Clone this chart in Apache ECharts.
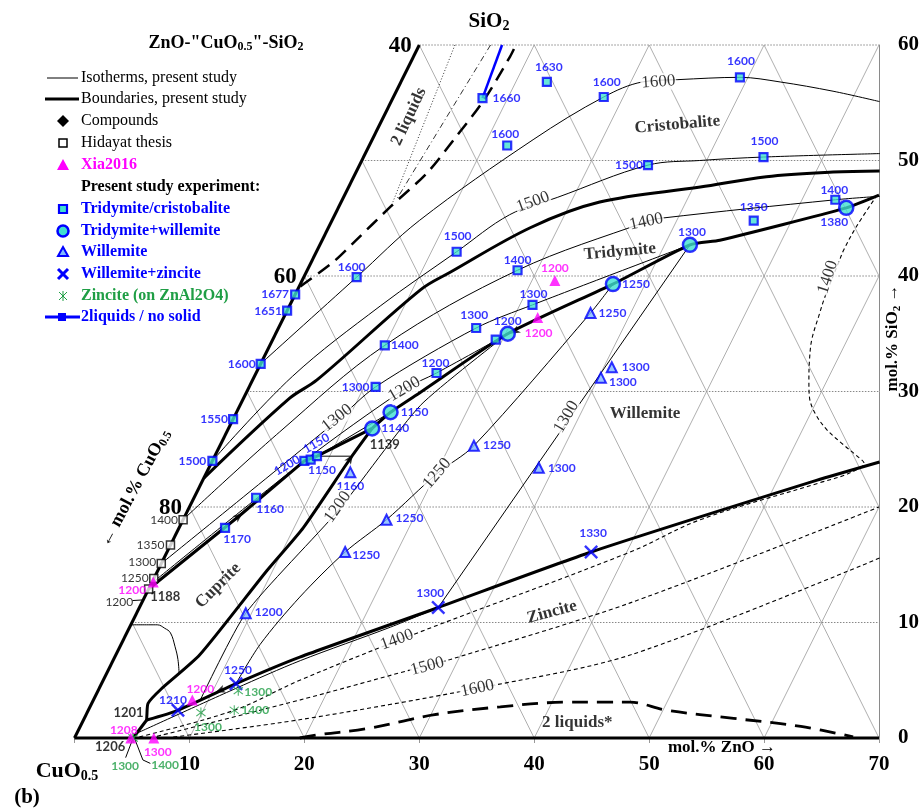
<!DOCTYPE html>
<html><head><meta charset="utf-8">
<script src="https://cdn.jsdelivr.net/npm/echarts@6/dist/echarts.min.js"></script>
<style>html,body{margin:0;padding:0;background:#fff}#c{width:922px;height:810px}</style>
</head><body><div id="c"></div>
<script>
// ===== DATA: compositions as [mol% ZnO, mol% SiO2, T(°C)] =====
const tridCrist = [
 [7.8,55.4,1660],[12.7,56.8,1630],[18.3,55.5,1600],[29.3,57.2,1600],[12.0,51.3,1600],
 [34.8,50.3,1500],[25.1,49.6,1500],[42.9,46.6,1400],[36.7,44.8,1350],[4.6,39.9,1600],
 [0,38.4,1677],[0,37.0,1651],[0,32.4,1600],[0,27.6,1550],[0,24.0,1500],
 [12.2,42.1,1500],[18.3,40.5,1400],[10.0,34.0,1400],[17.2,35.5,1300],[21.1,37.5,1300],
 [15.7,31.6,1200],[11.0,30.4,1300],[19.4,34.5,null],[5.4,20.8,1160],[4.0,18.2,1170],
 [8.0,24.0,null],[8.5,24.1,null],[8.9,24.4,1150]
];
const tridWill = [[44.2,45.9,1380],[32.2,42.7,1300],[27.2,39.3,1250],[20.2,35.0,1200],[13.4,28.2,1150],[12.5,26.8,1140]];
const willemite = [[26.5,36.8,1250],[30.7,32.1,1300],[30.2,31.2,1300],[22.1,25.3,1250],[28.7,23.4,1300],[12.5,23.0,1160],[17.7,18.9,1250],[15.5,16.1,1250],[9.5,10.8,1200]];
const willZinc = [[36.9,16.1,1330],[26.0,11.3,1300],[11.7,4.7,1250],[7.8,2.4,1210]];
const zincite = [[12.2,4.1,1300],[12.7,2.4,1400],[9.9,2.2,1300],[5.1,0,1300],[5.1,0,1400]];
const xia = [[22.0,39.6,1200],[22.1,36.4,1200],[8.6,3.3,1200],[6.9,0,1300],[4.9,0,1208],[0.1,13.5,1200]];
const hidayat = [[0,18.9,1400],[0,16.7,1350],[0,15.1,1300],[0,13.8,1250],[0,12.9,null]];

// boundaries (thick)
const bndCristTrid = [[0,22.5],[4.0,29.4],[5.6,31.0],[10.7,38.8],[12.5,40.3],[17.6,44.2],[22.5,46.4],[30.6,47.7],[35.9,48.6],[41.5,49.0],[45.5,49.1]];
const bndTridWill = [[46.5,47.0],[44.2,45.9],[34.6,43.1],[32.2,42.7],[27.2,39.3],[20.2,35.0],[15.1,29.9],[13.4,28.2],[12.5,26.8]];
const bndCupTrid = [[0,12.9],[4.7,19.2],[8.0,24.0],[8.9,24.4],[12.5,26.8]];
const bndCupWill = [[12.5,26.8],[11.9,24.2],[10.8,18.2],[9.5,14.5],[7.3,7.2],[5.4,4.2],[4.9,3.0],[5.3,2.0],[5.5,1.56]];
const bndCupZinc = [[5.5,1.56],[5.1,0]];
const bndWillZinc = [[5.5,1.56],[7.8,2.4],[11.7,4.7],[16.1,7.0],[26.0,11.3],[36.9,16.1],[53.4,22.3],[58.1,23.9]];
// isotherms (thin)
const iso1600 = [[0,32.4],[4.6,39.9],[7.6,44.8],[14.0,51.8],[18.3,55.5],[21.0,56.8],[24.0,57.0],[29.3,57.2],[33.0,56.8],[38.0,56.0],[42.5,55.1]];
const iso1500 = [[0,24.0],[3.3,31.3],[7.9,37.4],[12.2,42.1],[15.2,45.3],[18.6,46.8],[25.1,49.6],[29.4,50.0],[34.8,50.3],[44.8,50.6]];
const iso1400 = [[0,18.9],[4.6,26.5],[10.0,34.0],[18.3,40.5],[27.4,44.7],[28.5,45.0],[42.9,46.6],[46.6,46.9]];
const iso1300 = [[0,15.1],[9.1,27.5],[11.0,30.4],[17.2,35.5],[21.1,37.5],[32.2,42.7]];
const iso1200 = [[0.1,13.5],[8.0,24.0],[13.6,30.2],[15.7,31.6],[20.2,35.0]];
const iso1150 = [[8.9,24.4],[13.4,28.2]];
const tieLine = [[8.9,24.4],[11.8,24.4]];
const will1300 = [[32.2,42.7],[26.0,11.3]];
const will1250 = [[27.2,39.3],[26.5,36.8],[22.1,25.3],[20.1,22.9],[17.7,18.9],[15.5,16.1],[13.5,12.2],[12.1,8.1],[11.7,4.7]];
const will1200 = [[20.2,35.0],[15.7,28.8],[13.1,19.7],[9.5,10.8],[9.3,3.3]];
const cupIso = [[0,9.8],[2.3,9.8],[3.1,9.5],[3.8,9.1],[4.8,7.9],[5.6,6.8],[6.3,5.6]];
const zn1300 = [[5.2,0.4],[11.9,4.3],[16.3,6.7],[22.7,9.6],[26.0,11.3]];
const zn1400 = [[5.6,0.1],[12.7,2.4],[17.1,5.0],[25.3,9.1],[40.3,16.1],[45.0,18.9],[53.8,22.1],[55.9,22.9],[56.8,23.8],[55.9,24.4],[54.2,25.4],[52.1,26.7],[50.4,28.1],[49.2,29.5],[48.4,31.0],[47.6,32.7],[46.9,34.5],[46.5,36.5],[46.2,38.2],[45.9,41.2],[45.8,42.3],[45.9,44.3],[46.3,46.8]];
const zn1500 = [[6.6,0],[18.0,3.3],[26.3,5.9],[29.3,6.8],[42.5,11.7],[60.0,20.0]];
const zn1600 = [[8.0,0],[18.9,1.6],[32.9,4.3],[44.8,7.2],[62.3,15.6]];
const twoLiqBottom = [[19.6,0],[21.2,0.3],[25.0,0.8],[30.2,2.0],[35.7,2.7],[41.3,3.1],[44.2,3.1],[46.8,3.1],[50.3,2.4],[56.5,1.7],[62.7,1.0],[67.7,0.1]];
const twoLiqTop = [[0.1,39.1],[1.9,41.2],[2.9,43.0],[4.5,46.0],[6.2,48.9],[7.1,51.8],[8.0,55.2],[8.4,59.0],[8.4,60]];
const tieDotted = [[3.1,60],[4.5,46.4]];
const tieDashDot = [[6.2,60],[4.7,46.6]];
const noSolid = [[7.8,55.4],[7.2,60]];
const leader1200 = [[-0.9,11.9],[-0.1,11.95]];
const leaderA = [[5.1,0],[5.3,-1.7]];
const leaderB = [[5.3,-0.1],[6.9,-1.9],[7.7,-2.2]];
const arrows = [[4.7,19.2],[11.9,24.2],[20.7,35.2],[10.6,4.1]];

// text annotations (anchor compositions + text)
const isoLabels = [[22.4,56.8,'1600'],[16.7,46.4,'1500'],[27.4,44.7,'1400'],[9.0,27.7,'1300'],[13.6,30.2,'1200'],
 [12.9,20.0,'1200'],[20.1,22.9,'1250'],[28.9,27.8,'1300'],[45.6,39.9,'1400'],[23.8,8.5,'1400'],[27.6,6.2,'1500'],[32.9,4.3,'1600']];
const phaseLabels = [[25.9,53.1,'Cristobalite'],[26.4,42.1,'Tridymite'],[35.6,28.1,'Willemite'],[36.1,10.9,'Zincite'],[5.9,13.2,'Cuprite'],[43.1,1.3,'2 liquids*'],[2.2,53.8,'2 liquids']];
const invLabels = [[14.3,25.4,'1139'],[1.8,12.2,'1188'],[3.6,2.2,'1201'],[3.5,-0.8,'1206']];
const blueExtraLabels = [[6.7,23.6,'1200'],[8.3,25.5,'1150']];
const blackExtraLabels = [[-2.0,11.8,'1200']];
const xTicks = [0,10,20,30,40,50,60,70];
const yTicks = [0,10,20,30,40,50,60];
const edgeTicks = [[20,'80'],[40,'60'],[60,'40']];

// ===== LAYOUT (label offsets / rotations, px) =====
const tridCristOff = [[24,0],[2,-15],[3,-15],[1,-16],[-2,-11],[1,-16],[-19,0],[-1,-10],[0,-13],[-5,-10],
 [-20,0],[-19,0],[-19,0],[-19,0],[-20,0],[1,-16],[0,-10],[20,0],[-2,-13],[1,-11],
 [-1,-10],[-20,0],null,[14,11],[12,11],null,null,[5,14]];
const tridWillOff = [[-12,14],[2,-13],[23,0],[0,-13],[24,0],[23,0]];
const willOff = [[22,0],[24,0],[22,4],[23,-1],[23,0],[0,14],[23,-2],[21,3],[23,-1]];
const willZincOff = [[2,-19],[-8,-14],[2,-14],[-5,-10]];
const zinciteOff = [[20,1],[21,0],[7,15],[-8,28],[32,27]];
const xiaOff = [[0,-12],[1,16],[8,-11],[4,14],[-7,-8],[-21,8]];
const hidOff = [[-19,0],[-20,0],[-19,-1],[-19,0],null];
const isoRot = [4,20,12,38,30,55,50,60,72,20,15,12];
const phaseRot = [5,5,0,15,45,0,65];
const arrowRot = [-51,-34,118,112];

// ===== helpers =====
const xy = p => [p[0] + p[1] / 2, p[1]];
const BLUE = '#0000ff', MAG = '#ff00ff', GREEN = '#1f9e45', CYAN = '#40e0d0';
const SERIF = '"Liberation Serif", "Times New Roman", serif';
const SANS = 'Lato, "Open Sans", sans-serif';

function lineS(pts, width, color, type, smooth, z) {
  return { type: 'line', data: pts.map(xy), symbol: 'none', showSymbol: false, silent: true, clip: false,
    smooth: smooth || 0, z: z || 3, animation: false,
    lineStyle: { width: width, color: color || '#000', type: type || 'solid', cap: 'butt' } };
}
function markS(arr, off, symbol, size, style, lblStyle, z) {
  return { type: 'scatter', symbol: symbol, symbolSize: size, silent: true, clip: false, z: z || 10, animation: false,
    itemStyle: style,
    data: arr.map((p, i) => {
      const d = { value: xy(p) };
      const o = off[i];
      if (o && p[2] != null) d.label = Object.assign({ show: true, formatter: String(p[2]), position: 'inside', offset: [o[0], o[1]] }, lblStyle);
      return d;
    }) };
}
function textS(arr, rot, lblStyle, z) {
  return { type: 'scatter', symbolSize: 1, silent: true, clip: false, z: z || 20, animation: false,
    itemStyle: { color: 'transparent' },
    data: arr.map((p, i) => ({ value: xy(p), label: Object.assign({ show: true, formatter: p[2], position: 'inside', rotate: rot ? rot[i] : 0 }, lblStyle) })) };
}

// ternary grid (structure)
const grid = [];
for (let s = 10; s <= 60; s += 10) grid.push(lineS([[0, s], [70 - s / 2, s]], 1, '#888', [1.5, 1.5], 0, 1));
for (let z = 10; z <= 60; z += 10) grid.push(lineS([[z, 0], [z, Math.min(60, 2 * (70 - z))]], 0.8, '#9a9a9a', 'solid', 0, 1));
for (let x0 = 10; x0 <= 90; x0 += 10) {
  const s0 = Math.max(0, 2 * (x0 - 70)), s1 = Math.min(60, x0);
  grid.push(lineS([[x0 - s0, s0], [x0 - s1, s1]], 0.8, '#9a9a9a', 'solid', 0, 1));
}

const blueLbl = { color: BLUE, fontWeight: 'bold', fontSize: 12, fontFamily: SANS };
const X_PATH = 'path://M0,1.2L1.2,0L5,3.8L8.8,0L10,1.2L6.2,5L10,8.8L8.8,10L5,6.2L1.2,10L0,8.8L3.8,5Z';
const AST_PATH = 'path://M4.6,0H5.4V10H4.6Z M1.2,1.8L1.8,1.2L8.8,8.2L8.2,8.8Z M8.2,1.2L8.8,1.8L1.8,8.8L1.2,8.2Z';
const ARROW_PATH = 'path://M5,0L10,10L5,7.5L0,10Z';

const series = [].concat(grid, [
  lineS([[0,0],[70,0]], 3, '#000', 'solid', 0, 4),
  lineS([[0,0],[0,60]], 3, '#000', 'solid', 0, 4),
  // top-left miscibility gap
  lineS(twoLiqTop, 2.5, '#000', [14, 8], 0.3, 4),
  lineS(tieDotted, 1, '#333', [1, 2], 0, 3),
  lineS(tieDashDot, 1, '#333', [6, 3, 1, 3], 0, 3),
  lineS(noSolid, 2.5, BLUE, 'solid', 0, 6),
  // boundaries
  lineS(bndCristTrid, 3, '#000', 'solid', 0.35, 4),
  lineS(bndTridWill, 3, '#000', 'solid', 0.2, 4),
  lineS(bndCupTrid, 3, '#000', 'solid', 0, 4),
  lineS(bndCupWill, 3, '#000', 'solid', 0.2, 4),
  lineS(bndCupZinc, 3, '#000', 'solid', 0, 4),
  lineS(bndWillZinc, 3, '#000', 'solid', 0.2, 4),
  // isotherms
  lineS(iso1600, 1, '#000', 'solid', 0.35),
  lineS(iso1500, 1, '#000', 'solid', 0.35),
  lineS(iso1400, 1, '#000', 'solid', 0.35),
  lineS(iso1300, 1, '#000', 'solid', 0.3),
  lineS(iso1200, 1, '#000', 'solid', 0.3),
  lineS(iso1150, 1, '#000', 'solid', 0),
  lineS(tieLine, 1, '#000', 'solid', 0),
  lineS(will1300, 1, '#000', 'solid', 0),
  lineS(will1250, 1, '#000', 'solid', 0.3),
  lineS(will1200, 1, '#000', 'solid', 0.2),
  lineS(cupIso, 1, '#000', 'solid', 0.4),
  lineS(zn1300, 1, '#000', 'solid', 0.3),
  lineS(zn1400, 1.1, '#000', [4, 3], 0.35),
  lineS(zn1500, 1.1, '#000', [4, 3], 0.3),
  lineS(zn1600, 1.1, '#000', [4, 3], 0.3),
  lineS(twoLiqBottom, 2.8, '#000', [16, 9], 0.35, 4),
  lineS(leader1200, 1, '#000'),
  lineS(leaderA, 1, '#000'),
  lineS(leaderB, 1, '#000'),
  // arrows
  { type: 'scatter', symbol: ARROW_PATH, symbolSize: [8, 10], silent: true, clip: false, z: 6, animation: false,
    itemStyle: { color: '#000' }, data: arrows.map((p, i) => ({ value: xy(p), symbolRotate: arrowRot[i] })) },
  // markers
  markS(hidayat, hidOff, 'rect', 8, { color: '#fff', borderColor: '#000', borderWidth: 1.5 }, { color: '#000', fontSize: 12, fontFamily: SANS }),
  markS(tridCrist, tridCristOff, 'rect', 8, { color: CYAN, borderColor: BLUE, borderWidth: 2.2 }, blueLbl),
  markS(tridWill, tridWillOff, 'circle', 14, { color: CYAN, borderColor: BLUE, borderWidth: 2.5 }, blueLbl),
  markS(willemite, willOff, 'triangle', 10, { color: '#7fb8ff', borderColor: BLUE, borderWidth: 2 }, blueLbl),
  markS(willZinc, willZincOff, X_PATH, 14, { color: BLUE }, blueLbl),
  markS(zincite, zinciteOff, AST_PATH, 10, { color: GREEN }, { color: GREEN, fontWeight: 'bold', fontSize: 12, fontFamily: SANS }),
  markS(xia, xiaOff, 'triangle', 11, { color: MAG }, { color: MAG, fontWeight: 'bold', fontSize: 12, fontFamily: SANS }, 11),
  // texts
  textS(isoLabels, isoRot, { color: '#000', fontSize: 17, fontFamily: SERIF, backgroundColor: '#fff', padding: [0, 1] }),
  textS(phaseLabels, phaseRot, { color: '#000', fontSize: 17, fontWeight: 'bold', fontFamily: SERIF }),
  textS(invLabels, null, { color: '#000', fontSize: 13, fontWeight: 'bold', fontFamily: SANS }),
  textS(blueExtraLabels, [30, 30], blueLbl),
  textS(blackExtraLabels, null, { color: '#000', fontSize: 12, fontFamily: SANS })
]);

const chart = echarts.init(document.getElementById('c'), null, { renderer: 'canvas' });
chart.setOption({
  animation: false,
  backgroundColor: '#fff',
  grid: { left: 74.5, right: 42.7, top: 45, bottom: 72 },
  xAxis: { type: 'value', min: 0, max: 70, interval: 10,
    axisLine: { show: false, onZero: false }, splitLine: { show: false },
    axisTick: { show: true, length: 5, lineStyle: { color: '#999' } },
    axisLabel: { margin: 16, fontSize: 21, fontWeight: 'bold', color: '#000', fontFamily: SERIF,
      formatter: v => (xTicks.indexOf(v) > 0 ? String(v) : '') } },
  yAxis: { type: 'value', position: 'right', min: 0, max: 60, interval: 10,
    axisLine: { show: true, onZero: false, lineStyle: { color: '#8a8a8a', width: 1 } }, splitLine: { show: false },
    axisTick: { show: false },
    axisLabel: { margin: 19, fontSize: 21, fontWeight: 'bold', color: '#000', fontFamily: SERIF,
      formatter: v => (yTicks.indexOf(v) >= 0 ? String(v) : '') } },
  series: series
});

// ===== fixed texts + legend =====
const g = [];
const T = (x, y, text, font, fill, align, rot, rich) => g.push({ type: 'text', x: x, y: y, rotation: (rot || 0) * Math.PI / 180, z: 50,
  style: { text: text, font: font, fill: fill || '#000', align: align || 'center', verticalAlign: 'middle', rich: rich } });
const subRich = (fs, sub) => ({ s: { fontSize: sub, fontWeight: 'bold', fontFamily: SERIF, padding: [fs * 0.45, 0, 0, 0] } });

T(226, 43, 'ZnO-"CuO{s|0.5}"-SiO{s|2}', 'bold 18px ' + SERIF, '#000', 'center', 0, subRich(18, 12));
T(489, 22, 'SiO{s|2}', 'bold 21px ' + SERIF, '#000', 'center', 0, subRich(21, 14));
T(67, 771, 'CuO{s|0.5}', 'bold 22px ' + SERIF, '#000', 'center', 0, subRich(22, 14));
T(27, 798, '(b)', 'bold 21px ' + SERIF);
T(722, 748, 'mol.% ZnO \u2192', 'bold 17px ' + SERIF);
T(893, 338, 'mol.% SiO{s|2} \u2192', 'bold 17px ' + SERIF, '#000', 'center', 90, subRich(17, 11));
T(135, 488, '\u2190 mol.% CuO{s|0.5}', 'bold 18px ' + SERIF, '#000', 'center', 62, subRich(18, 12));
edgeTicks.forEach(e => {
  const p = chart.convertToPixel({ gridIndex: 0 }, xy([0, e[0]]));
  T(p[0] - 19, p[1] + 1, e[1], 'bold 23px ' + SERIF);
});

// legend
const rows = [78, 99, 121, 143, 165, 187, 209, 231, 252, 274, 296, 317];
const leg = [
  ['Isotherms, present study', '16px', '#000'], ['Boundaries, present study', '16px', '#000'],
  ['Compounds', '16px', '#000'], ['Hidayat thesis', '16px', '#000'], ['Xia2016', 'bold 16px', MAG],
  ['Present study experiment:', 'bold 16px', '#000'], ['Tridymite/cristobalite', 'bold 16px', BLUE],
  ['Tridymite+willemite', 'bold 16px', BLUE], ['Willemite', 'bold 16px', BLUE], ['Willemite+zincite', 'bold 16px', BLUE],
  ['Zincite (on ZnAl2O4)', 'bold 16px', GREEN], ['2liquids / no solid', 'bold 16px', BLUE]
];
leg.forEach((l, i) => T(81, rows[i], l[0], l[1] + ' ' + SERIF, l[2], 'left'));
const cx = 63;
const L = (x1, y1, x2, y2, c, w) => g.push({ type: 'line', z: 50, shape: { x1, y1, x2, y2 }, style: { stroke: c, lineWidth: w } });
L(47, rows[0], 78, rows[0], '#000', 1);
L(45, rows[1], 79, rows[1], '#000', 3);
g.push({ type: 'polygon', z: 50, shape: { points: [[cx, rows[2] - 6], [cx + 6, rows[2]], [cx, rows[2] + 6], [cx - 6, rows[2]]] }, style: { fill: '#000' } });
g.push({ type: 'rect', z: 50, shape: { x: cx - 4, y: rows[3] - 4, width: 8, height: 8 }, style: { fill: '#fff', stroke: '#000', lineWidth: 1.5 } });
g.push({ type: 'polygon', z: 50, shape: { points: [[cx, rows[4] - 6], [cx + 6, rows[4] + 5], [cx - 6, rows[4] + 5]] }, style: { fill: MAG } });
g.push({ type: 'rect', z: 50, shape: { x: cx - 4, y: rows[6] - 4, width: 8, height: 8 }, style: { fill: CYAN, stroke: BLUE, lineWidth: 2.2 } });
g.push({ type: 'circle', z: 50, shape: { cx: cx, cy: rows[7], r: 5.5 }, style: { fill: CYAN, stroke: BLUE, lineWidth: 2.5 } });
g.push({ type: 'polygon', z: 50, shape: { points: [[cx, rows[8] - 5], [cx + 5, rows[8] + 4], [cx - 5, rows[8] + 4]] }, style: { fill: '#7fb8ff', stroke: BLUE, lineWidth: 2 } });
L(cx - 5, rows[9] - 5, cx + 5, rows[9] + 5, BLUE, 3); L(cx - 5, rows[9] + 5, cx + 5, rows[9] - 5, BLUE, 3);
L(cx - 4, rows[10] - 4, cx + 4, rows[10] + 4, GREEN, 1); L(cx - 4, rows[10] + 4, cx + 4, rows[10] - 4, GREEN, 1); L(cx, rows[10] - 5, cx, rows[10] + 5, GREEN, 1);
L(45, rows[11], 80, rows[11], BLUE, 3);
g.push({ type: 'rect', z: 51, shape: { x: 58, y: rows[11] - 4, width: 8, height: 8 }, style: { fill: BLUE } });

chart.setOption({ graphic: g });
</script>
</body></html>
